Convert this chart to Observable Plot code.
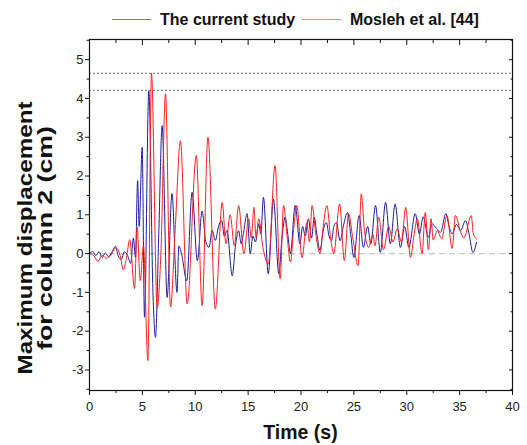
<!DOCTYPE html>
<html><head><meta charset="utf-8">
<script src="https://cdn.jsdelivr.net/npm/d3@7"></script>
<script src="https://cdn.jsdelivr.net/npm/@observablehq/plot@0.6"></script>
<style>body{margin:0;background:#fff;font-family:"Liberation Sans",Arial,sans-serif}</style>
</head><body><div id="chart"></div>
<script>
// [time (s), displacement (cm)]
const currentStudy = [[0,0],[0.3,0.05],[0.6,-0.05],[0.9,0.05],[1.2,-0.1],[1.5,0.02],[1.8,-0.08],[2.1,0.03],[2.45,0.19],[2.7,-0.05],[3.0,-0.15],[3.3,0.05],[3.6,-0.05],[3.9,-0.25],[4.15,0.4],[4.35,-0.1],[4.55,1.88],[4.7,0.7],[4.98,2.74],[5.2,-1.64],[5.61,4.2],[6.0,-1.0],[6.24,-2.16],[6.55,0.5],[6.87,3.3],[7.34,-1.13],[7.8,1.55],[8.27,-1.0],[8.45,0.2],[8.7,0.0],[9.2,-0.7],[9.7,1.58],[10.2,-0.18],[10.65,1.1],[11.0,0.3],[11.3,0.16],[11.6,0.6],[11.9,0.34],[12.2,0.7],[12.5,0.85],[12.75,0.45],[13.0,0.6],[13.5,-0.57],[13.8,0.2],[14.1,0.59],[14.35,0.25],[14.6,0.6],[14.9,1.03],[15.2,0.0],[15.45,0.45],[15.7,0.3],[16.0,0.77],[16.2,0.5],[16.45,1.45],[16.9,-0.52],[17.4,1.4],[17.9,-0.52],[18.2,0.4],[18.5,0.94],[18.75,0.5],[19.0,0.0],[19.45,1.24],[19.9,0.25],[20.15,0.7],[20.4,0.45],[20.7,0.9],[21.0,0.4],[21.25,0.94],[21.5,0.5],[21.8,0.08],[22.1,0.6],[22.4,0.8],[22.65,0.45],[22.9,0.34],[23.1,0.7],[23.35,0.8],[23.7,0.33],[24.0,0.7],[24.4,1.06],[24.7,0.5],[25.0,-0.1],[25.5,0.98],[25.9,0.16],[26.3,0.7],[26.6,0.25],[27.05,1.24],[27.5,0.03],[28.0,1.32],[28.45,0.25],[28.9,1.28],[29.4,0.16],[29.8,0.7],[30.2,0.16],[30.8,1.03],[31.2,0.5],[31.55,0.95],[32.05,0.42],[32.4,0.77],[32.8,0.65],[33.2,0.55],[33.7,1.03],[34.0,0.7],[34.3,0.51],[34.7,0.75],[35.1,0.6],[35.55,0.85],[35.9,0.5],[36.25,0.03],[36.6,0.29]];
const mosleh = [[0,0],[0.4,-0.05],[0.8,-0.2],[1.2,-0.05],[1.6,-0.12],[2.0,-0.05],[2.5,0.15],[2.9,-0.05],[3.2,-0.42],[3.5,-0.1],[3.8,0.36],[4.26,-0.9],[4.5,0.68],[4.8,-0.7],[5.1,0.2],[5.52,-2.76],[5.86,4.65],[6.4,-1.4],[6.75,0.0],[7.19,4.12],[7.66,-1.38],[8.1,0.6],[8.6,2.91],[9.24,-1.3],[10.1,2.53],[10.65,-1.34],[11.2,3.0],[11.9,-1.43],[12.55,1.32],[12.9,0.25],[13.3,1.0],[13.7,0.2],[14.1,1.24],[14.6,0.0],[15.05,0.9],[15.3,0.4],[15.55,1.19],[15.75,0.4],[16.0,0.9],[16.4,0.16],[16.9,-0.27],[17.55,2.27],[18.03,-0.65],[18.35,1.24],[18.7,0.4],[19.0,-0.22],[19.3,0.6],[19.6,1.24],[20.1,-0.1],[20.55,0.8],[20.8,0.3],[21.05,1.24],[21.4,0.5],[21.8,0.0],[22.1,0.7],[22.45,1.24],[22.8,0.4],[23.1,0.0],[23.65,1.28],[24.1,-0.18],[24.5,1.03],[24.9,0.4],[25.4,-0.31],[25.7,1.54],[26.0,0.6],[26.4,0.16],[26.8,0.5],[27.0,0.2],[27.35,0.94],[27.8,0.1],[28.3,0.7],[28.7,0.3],[29.1,0.64],[29.5,0.3],[29.9,1.19],[30.35,-0.1],[30.7,0.5],[31.0,0.9],[31.45,0.0],[31.75,1.06],[32.05,0.1],[32.3,0.9],[32.5,0.35],[32.9,0.59],[33.3,0.38],[33.8,0.98],[34.3,0.13],[34.6,0.98],[35.1,0.55],[35.4,0.4],[36.1,0.98],[36.3,0.5],[36.6,0.38]];
const seriesNames = ["The current study", "Mosleh et al. [44]"];
const seriesColors = ["#1c1ca0", "#ff1f1f"];
const peakLines = [4.65, 4.21];
const xTicks = [0,5,10,15,20,25,30,35,40];
const xMinorTicks = [2.5,7.5,12.5,17.5,22.5,27.5,32.5,37.5];
const yTicks = [-3,-2,-1,0,1,2,3,4,5];
const yMinorTicks = [-3.5,-2.5,-1.5,-0.5,0.5,1.5,2.5,3.5,4.5,5.5];
const xTitle = "Time (s)";
const yTitle = ["Maximum displacement", "for column 2 (cm)"];

const rows = [
  ...currentStudy.map(([t, v]) => ({t, v, s: seriesNames[0]})),
  ...mosleh.map(([t, v]) => ({t, v, s: seriesNames[1]}))
];

const chart = Plot.plot({
  width: 527, height: 445,
  marginLeft: 89, marginRight: 15, marginTop: 39, marginBottom: 55,
  x: {domain: [0, 40]},
  y: {domain: [-3.53, 5.52]},
  color: {domain: seriesNames, range: seriesColors},
  style: {fontFamily: "Liberation Sans, Arial, sans-serif", fontSize: "13px", color: "#222", background: "white"},
  marks: [
    Plot.ruleY([0], {stroke: "#c8c8c8", strokeDasharray: "6,4", strokeWidth: 1.3}),
    Plot.ruleY(peakLines, {stroke: "#444", strokeDasharray: "2,2", strokeWidth: 0.8}),
    Plot.line(rows, {x: "t", y: "v", z: "s", stroke: "s", strokeWidth: 1, curve: "monotone-x"}),
    Plot.frame({stroke: "#111", strokeWidth: 1.2}),
    Plot.axisX({ticks: xTicks, tickSize: 5, tickPadding: 6, label: null, tickFormat: d => d, stroke: "#111"}),
    Plot.axisX({ticks: xMinorTicks, tickSize: 3, fill: "none", label: null, stroke: "#111"}),
    Plot.axisX({anchor: "top", ticks: xTicks, tickSize: -5, fill: "none", label: null, stroke: "#111"}),
    Plot.axisX({anchor: "top", ticks: xMinorTicks, tickSize: -3, fill: "none", label: null, stroke: "#111"}),
    Plot.axisY({ticks: yTicks, tickSize: 4, tickPadding: 2, label: null, tickFormat: d => d, stroke: "#111"}),
    Plot.axisY({ticks: yMinorTicks, tickSize: 2.5, fill: "none", label: null, stroke: "#111"}),
    Plot.axisY({anchor: "right", ticks: yTicks, tickSize: -4, fill: "none", label: null, stroke: "#111"}),
    Plot.axisY({anchor: "right", ticks: yMinorTicks, tickSize: -2.5, fill: "none", label: null, stroke: "#111"})
  ]
});
document.getElementById("chart").appendChild(chart);

const svg = d3.select(chart);
const font = "Liberation Sans, Arial, sans-serif";
// legend
const legendX = [112, 302];
seriesNames.forEach((name, i) => {
  svg.append("line").attr("x1", legendX[i]).attr("x2", legendX[i] + 39).attr("y1", 19.5).attr("y2", 19.5)
    .attr("stroke", seriesColors[i]).attr("stroke-width", 1.2).attr("stroke-opacity", 0.6);
  svg.append("text").attr("x", legendX[i] + 48).attr("y", 24.5).attr("text-anchor", "start").text(name)
    .attr("font-family", font).attr("font-size", 16).attr("font-weight", "bold").attr("fill", "#111");
});
// axis titles
svg.append("text").attr("x", 300.5).attr("y", 439).attr("text-anchor", "middle").text(xTitle)
  .attr("font-family", font).attr("font-size", 19.5).attr("font-weight", "bold").attr("fill", "#111");
const yLens = [273, 224];
yTitle.forEach((line, i) => {
  svg.append("text").attr("transform", `translate(${32 + i * 19.5},238) rotate(-90)`)
    .attr("text-anchor", "middle").text(line)
    .attr("textLength", yLens[i]).attr("lengthAdjust", "spacingAndGlyphs")
    .attr("font-family", font).attr("font-size", 21).attr("font-weight", "bold").attr("fill", "#111");
});
</script>
</body></html>
